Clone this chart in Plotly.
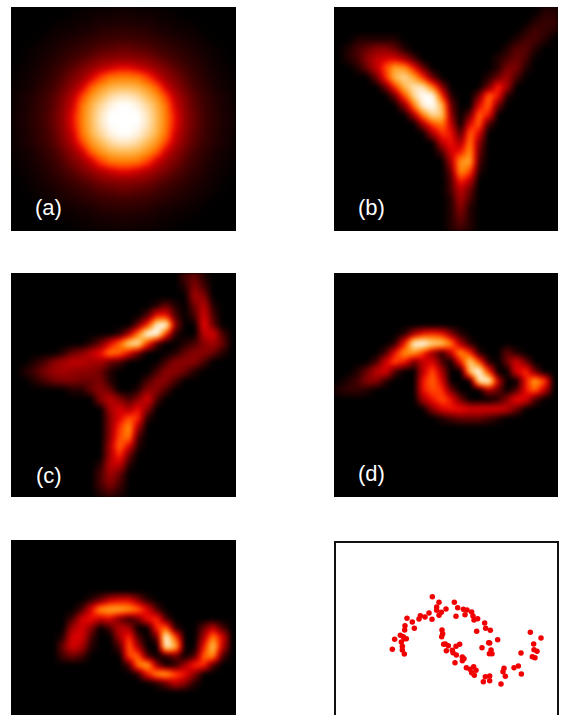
import plotly.graph_objects as go

W, H = 567, 715

# Intensity grids (0 = black, 7 = red, 12 = orange, 20 = white)
A_Q = [
 [20,20,18,15,12,7.5,4.2,2.9,1.8,1.3,.8,.5],
 [20,19,17,14.5,11.5,6.5,4,2.6,1.7,1.2,.7,.4],
 [18,17,15,13,9.5,5.5,3.6,2.4,1.6,1.1,.7,.4],
 [15,14.5,13,10.5,6.5,4.2,2.9,1.9,1.3,.8,.5,.3],
 [12,11.5,9.5,6.5,4.5,3.4,2.3,1.6,1.1,.7,.4,.2],
 [7.5,6.5,5.5,4.2,3.4,2.5,1.8,1.3,.9,.5,.3,.1],
 [4.2,4,3.6,2.9,2.3,1.8,1.4,1,.7,.4,.2,0],
 [2.9,2.6,2.4,1.9,1.6,1.3,1,.7,.5,.3,.1,0],
 [1.8,1.7,1.6,1.3,1.1,.9,.7,.5,.3,.1,0,0],
 [1.3,1.2,1.1,.8,.7,.5,.4,.3,.1,0,0,0],
 [.8,.7,.7,.5,.4,.3,.2,.1,0,0,0,0],
 [.5,.4,.4,.3,.2,.1,0,0,0,0,0,0],
]
PANEL_A = [r[::-1] + r for r in A_Q[::-1] + A_Q]

PANEL_B = [
 [0,0,0,0,0,0,0,0,0,0,0,0,0,0,0,0,0,0,0,0,0,0,1,1],
 [0,0,0,0,0,0,0,0,0,0,0,0,0,0,0,0,0,0,0,0,0,1,1.5,1.5],
 [0,0,0,0,0,0,0,0,0,0,0,0,0,0,0,0,0,0,0,0,1,2,1.5,1],
 [0,0,1,1,1,1,1,0,0,0,0,0,0,0,0,0,0,0,0,1,2,2,1,0],
 [0,1,2,3,4,4,3,1,0,0,0,0,0,0,0,0,0,0,1,2.5,2.5,1,0,0],
 [0,1,2,4,6,7,7,5,2,0,0,0,0,0,0,0,0,1,2,3,2,0,0,0],
 [0,0,1,3,6,10,14,13,8,3,0,0,0,0,0,0,0,1,3.5,3.5,1,0,0,0],
 [0,0,0,0,3,9,15,17,14,9,3,0,0,0,0,0,1,3,5,2,0,0,0,0],
 [0,0,0,0,0,3,9,15,18,18,12,4,0,0,0,0,3,9,5,0,0,0,0,0],
 [0,0,0,0,0,0,3,10,17,20,20,9,1,0,0,3,11,8,1,0,0,0,0,0],
 [0,0,0,0,0,0,0,4,12,19,20,15,3,0,0,7,11,3,0,0,0,0,0,0],
 [0,0,0,0,0,0,0,0,5,12,17,16,4,0,3,11,8,0,0,0,0,0,0,0],
 [0,0,0,0,0,0,0,0,0,5,10,12,6,0,7,11,2,0,0,0,0,0,0,0],
 [0,0,0,0,0,0,0,0,0,0,5,9,8,2,11,7,0,0,0,0,0,0,0,0],
 [0,0,0,0,0,0,0,0,0,0,0,6,8,5,12,4,0,0,0,0,0,0,0,0],
 [0,0,0,0,0,0,0,0,0,0,0,2,7,8,13,3,0,0,0,0,0,0,0,0],
 [0,0,0,0,0,0,0,0,0,0,0,0,5,13,14,2,0,0,0,0,0,0,0,0],
 [0,0,0,0,0,0,0,0,0,0,0,0,3,13,10,1,0,0,0,0,0,0,0,0],
 [0,0,0,0,0,0,0,0,0,0,0,0,2,9,6,0,0,0,0,0,0,0,0,0],
 [0,0,0,0,0,0,0,0,0,0,0,0,2,6,3,0,0,0,0,0,0,0,0,0],
 [0,0,0,0,0,0,0,0,0,0,0,0,1,5,2,0,0,0,0,0,0,0,0,0],
 [0,0,0,0,0,0,0,0,0,0,0,0,1,4,1,0,0,0,0,0,0,0,0,0],
 [0,0,0,0,0,0,0,0,0,0,0,0,1,3,1,0,0,0,0,0,0,0,0,0],
 [0,0,0,0,0,0,0,0,0,0,0,0,1,2,1,0,0,0,0,0,0,0,0,0],
]

PANEL_C = [
 [0,0,0,0,0,0,0,0,0,0,0,0,0,0,0,0,0,0,2,3,1,0,0,0],
 [0,0,0,0,0,0,0,0,0,0,0,0,0,0,0,0,0,0,1,4,2,0,0,0],
 [0,0,0,0,0,0,0,0,0,0,0,0,0,0,0,0,0,0,0,5,4,0,0,0],
 [0,0,0,0,0,0,0,0,0,0,0,0,0,0,0,1,3,1,0,3,6,1,0,0],
 [0,0,0,0,0,0,0,0,0,0,0,0,0,0,2,8,8,2,0,2,7,2,0,0],
 [0,0,0,0,0,0,0,0,0,0,0,0,0,3,9,19,20,4,0,0,8,3,0,0],
 [0,0,0,0,0,0,0,0,0,0,0,1,5,12,20,20,9,1,0,0,6,7,2,0],
 [0,0,0,0,0,0,0,0,1,3,7,11,17,18,9,2,0,0,1,2,4,5,3,0],
 [0,0,0,0,0,1,3,4,6,8,12,11,7,3,0,0,0,1,3,4,4,3,1,0],
 [0,0,1,2,4,5,6,6,5,5,3,2,0,0,0,0,2,4,4,4,2,0,0,0],
 [0,1,2,3.5,4.5,5,4.5,4,4,3,1,0,0,0,0,2,4,4,3,1,0,0,0,0],
 [0,0,1,2,3,3.5,3.5,3,3,3.5,1,0,0,0,2,4,4,2,0,0,0,0,0,0],
 [0,0,0,0,0,0,1,1,3,4,3,0,0,1,4,4,2,0,0,0,0,0,0,0],
 [0,0,0,0,0,0,0,0,0,4,6,4,2,4,7,2,0,0,0,0,0,0,0,0],
 [0,0,0,0,0,0,0,0,0,0,5,7,5,8,4,0,0,0,0,0,0,0,0,0],
 [0,0,0,0,0,0,0,0,0,0,4,7,10,9,1,0,0,0,0,0,0,0,0,0],
 [0,0,0,0,0,0,0,0,0,0,4,9,13,5,0,0,0,0,0,0,0,0,0,0],
 [0,0,0,0,0,0,0,0,0,0,4,10,12,2,0,0,0,0,0,0,0,0,0,0],
 [0,0,0,0,0,0,0,0,0,0,5,11,7,1,0,0,0,0,0,0,0,0,0,0],
 [0,0,0,0,0,0,0,0,0,0,5,9,3,0,0,0,0,0,0,0,0,0,0,0],
 [0,0,0,0,0,0,0,0,0,1,6,6,1,0,0,0,0,0,0,0,0,0,0,0],
 [0,0,0,0,0,0,0,0,0,2,5,3,0,0,0,0,0,0,0,0,0,0,0,0],
 [0,0,0,0,0,0,0,0,0,2,4,2,0,0,0,0,0,0,0,0,0,0,0,0],
 [0,0,0,0,0,0,0,0,0,1,2,1,0,0,0,0,0,0,0,0,0,0,0,0],
]

PANEL_D = [
 [0]*24, [0]*24, [0]*24, [0]*24, [0]*24, [0]*24,
 [0,0,0,0,0,0,0,1,5,8,9,8,4,1,0,0,0,0,0,0,0,0,0,0],
 [0,0,0,0,0,0,1,8,19,20,17,16,12,5,1,0,0,0,0,0,0,0,0,0],
 [0,0,0,0,0,2,8,13,13,9,4,1,6,13,9,1,0,0,3,1,0,0,0,0],
 [0,0,0,0,2,7,10,8,3,6,7,2,0,8,17,10,1,0,3,7,3,0,0,0],
 [0,0,1,3,6,7,2,0,0,6,10,5,0,0,16,20,9,0,0,7,9,3,0,0],
 [0,1,2,4,4,1,0,0,0,8,11,7,0,0,0,18,20,6,0,0,8,14,10,0],
 [1,1.5,1.5,1,0,0,0,0,0,8,10,9,3,0,0,0,5,3,0,2,8,11,6,0],
 [0,0,0,0,0,0,0,0,0,5,8,10,8,3,0,0,0,1,4,8,7,2,0,0],
 [0,0,0,0,0,0,0,0,0,0,4,7,8,8,7,7,7,7,6,3,0,0,0,0],
 [0,0,0,0,0,0,0,0,0,0,0,1,2,3,3,3,2,1,0,0,0,0,0,0],
 [0]*24, [0]*24, [0]*24, [0]*24, [0]*24, [0]*24, [0]*24, [0]*24,
]

PANEL_E = [
 [0]*24, [0]*24, [0]*24, [0]*24, [0]*24, [0]*24,
 [0,0,0,0,0,0,0,0,1,3,6,7,7,4,1,0,0,0,0,0,0,0,0,0],
 [0,0,0,0,0,0,0,2,7,13,14,14,13,11,7,2,0,0,0,0,0,0,0,0],
 [0,0,0,0,0,0,2,7,8,6,7,3,1,3,8,9,2,0,0,0,0,0,0,0],
 [0,0,0,0,0,0,5,7,4,0,2,6,5,0,0,9,11,1,0,0,3,6,2,0],
 [0,0,0,0,0,1,7,7,2,0,0,5,9,2,0,3,20,10,0,0,5,12,7,0],
 [0,0,0,0,0,3,7,5,1,0,0,2,11,5,0,0,19,15,0,0,8,16,6,0],
 [0,0,0,0,0,2,3,2,0,0,0,0,10,11,2,0,1,3,0,2,11,13,2,0],
 [0,0,0,0,0,0,0,0,0,0,0,0,2,12,14,4,0,1,5,9,9,2,0,0],
 [0,0,0,0,0,0,0,0,0,0,0,0,0,1,8,13,14,10,8,4,0,0,0,0],
 [0,0,0,0,0,0,0,0,0,0,0,0,0,0,0,1,3,6,4,1,0,0,0,0],
 [0]*24, [0]*24, [0]*24,
]

# Scatter panel (f), positions
POINTS_X = [316,336,382,392,329,329,343,336,357,409,420,434,414,387,438,452,441,473,476,490,449,512,
            306,294,280,276,315,256,240,262,234,233,220,229,238,232,203,223,226,226,196,232,345,347,
            344,350,355,364,387,398,358,376,378,388,384,406,411,406,418,429,440,447,434,442,465,485,
            488,492,487,495,582,561,574,531,528,535,583,475,488,469,488,522,610,642,620,621,630,616,624]
POINTS_Y = [200,217,217,233,231,241,247,256,237,238,240,246,254,259,258,266,270,279,295,301,304,329,
            249,261,257,267,268,276,265,295,287,300,316,320,326,326,328,336,349,360,358,372,300,311,
            320,343,342,347,349,343,362,361,368,375,398,381,386,392,413,418,410,421,428,436,353,338,
            339,360,371,371,369,413,408,415,425,439,432,440,438,455,452,462,307,324,342,359,364,380,383]

LABELS = ["(a)", "(b)", "(c)", "(d)"]
LABEL_PX = [(48.7, 207), (371, 207), (48.5, 475), (371, 473)]

HOT = [[0, "#000000"], [0.18, "#800000"], [0.36, "#e00000"], [0.45, "#ff3000"], [0.6, "#ff8000"],
       [0.75, "#ffb850"], [0.88, "#ffe0b0"], [1, "#ffffff"]]

PANELS = [
    (PANEL_A, 11, 236, 7, 231),
    (PANEL_B, 334, 558, 7, 231),
    (PANEL_C, 11, 236, 273, 497),
    (PANEL_D, 334, 558, 273, 497),
    (PANEL_E, 11, 236, 540, 715),
]

fig = go.Figure()
layout = {}
shapes = []
hidden = dict(visible=False, showgrid=False, zeroline=False)
for i, (grid, x0, x1, y0, y1) in enumerate(PANELS, start=1):
    fig.add_trace(go.Heatmap(z=grid, zmin=0, zmax=20, colorscale=HOT, showscale=False,
                             zsmooth="best", hoverinfo="skip", xaxis=f"x{i}", yaxis=f"y{i}"))
    layout[f"xaxis{i}"] = dict(domain=[x0 / W, x1 / W], range=[-0.5, 23.5], anchor=f"y{i}", **hidden)
    layout[f"yaxis{i}"] = dict(domain=[1 - y1 / H, 1 - y0 / H], range=[len(grid) - 0.5, -0.5],
                               anchor=f"x{i}", **hidden)
    shapes.append(dict(type="rect", layer="below", xref="paper", yref="paper",
                       x0=x0 / W, x1=x1 / W, y0=1 - y1 / H, y1=1 - y0 / H,
                       fillcolor="black", line_width=0))

fig.add_trace(go.Scatter(x=POINTS_X, y=POINTS_Y, mode="markers", xaxis="x6", yaxis="y6",
                         marker=dict(color="#f00000", size=5.5), hoverinfo="skip"))
layout["xaxis6"] = dict(domain=[336 / W, 557 / W], range=[27, 690], anchor="y6", side="top",
                        showline=True, linecolor="#111111", linewidth=2, ticks="", showticklabels=False,
                        showgrid=False, zeroline=False)
layout["yaxis6"] = dict(domain=[0, 1 - 543 / H], range=[555, 39], anchor="x6",
                        showline=True, mirror=True, linecolor="#111111", linewidth=2, ticks="",
                        showticklabels=False, showgrid=False, zeroline=False)

annotations = [dict(text=t, x=px / W, y=1 - py / H, xref="paper", yref="paper", xanchor="center",
                    yanchor="middle", showarrow=False,
                    font=dict(family="Liberation Sans", size=22, color="white"))
               for t, (px, py) in zip(LABELS, LABEL_PX)]

fig.update_layout(width=W, height=H, margin=dict(l=0, r=0, t=0, b=0), showlegend=False,
                  paper_bgcolor="white", plot_bgcolor="white", annotations=annotations, shapes=shapes,
                  **layout)
POST = """
document.body.style.margin = '0';
document.querySelectorAll('.hm image, .heatmaplayer image').forEach(function (im) {
  im.style.filter = 'blur(2px)';
});
"""
fig.write_html("out.html", config=dict(displayModeBar=False), post_script=POST)
